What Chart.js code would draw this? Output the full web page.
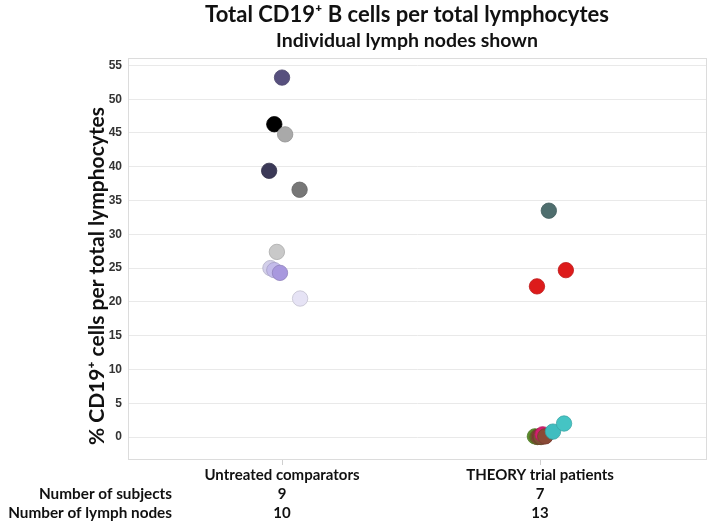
<!DOCTYPE html>
<html><head><meta charset="utf-8">
<script src="https://cdn.jsdelivr.net/npm/chart.js@4/dist/chart.umd.min.js"></script>
<style>html,body{margin:0;padding:0;background:#fff}</style>
</head><body>
<canvas id="c" width="709" height="522"></canvas>
<script>
const categories = ['Untreated comparators', 'THEORY trial patients'];
const subjectCounts = [9, 7];
const nodeCounts = [10, 13];
const rowHeaders = ['Number of subjects', 'Number of lymph nodes'];
const yTicks = [0, 5, 10, 15, 20, 25, 30, 35, 40, 45, 50, 55];
const yTitle = '% CD19\u207A cells per total lymphocytes';
const mainTitle = 'Total CD19\u207A B cells per total lymphocytes';
const subTitle = 'Individual lymph nodes shown';

// Untreated comparators (category 1)
const untreatedValues = [53.2, 46.3, 44.8, 39.4, 36.6, 27.4, 25.0, 24.7, 24.3, 20.5];
const untreatedJitter = [0.0, -0.03, 0.012, -0.05, 0.068, -0.02, -0.045, -0.03, -0.008, 0.07];
const untreatedColors = ['#57507e', '#000000', '#a9a9a9', '#3b3957', '#777777', '#c9c9c9', '#d3cfea', '#c3bbea', '#a898de', '#e6e3f5'];

// THEORY trial patients (category 2)
const theoryValues = [33.5, 24.7, 22.3, 0.1, 0.0, 0.05, 0.1, 0.0, 0.15, 0.4, 0.1, 0.8, 2.0];
const theoryJitter = [0.034, 0.1, -0.012, -0.02, -0.01, -0.005, 0.0, 0.004, 0.02, 0.01, 0.02, 0.05, 0.093];
const theoryColors = ['#4f6e6e', '#dd1b1b', '#dd1b1b', '#5b8c2c', '#6c6a2a', '#7a5531', '#8a3a3c', '#7b5232', '#c2285a', '#d41e6e', '#8a4a36', '#3fbdc0', '#45c4c4'];

function toPoints(values, jitter, cat) {
  return values.map((v, i) => ({ x: cat + jitter[i], y: v }));
}
function darker(hex) {
  const n = parseInt(hex.slice(1), 16);
  const r = Math.round(((n >> 16) & 255) * 0.85), g = Math.round(((n >> 8) & 255) * 0.85), b = Math.round((n & 255) * 0.85);
  return `rgb(${r},${g},${b})`;
}

const textFont = 'Lato, "Open Sans", "DejaVu Sans", sans-serif';

const overlay = {
  id: 'overlay',
  beforeDraw(chart) {
    const { ctx } = chart;
    ctx.save();
    ctx.fillStyle = '#fff';
    ctx.fillRect(0, 0, chart.width, chart.height);
    ctx.restore();
  },
  afterDraw(chart) {
    const { ctx, chartArea: a } = chart;
    ctx.save();
    ctx.strokeStyle = '#dcdcdc';
    ctx.lineWidth = 1;
    ctx.strokeRect(a.left + 0.5, a.top + 0.5, a.right - a.left - 1, a.bottom - a.top - 1);
    ctx.fillStyle = '#111';
    ctx.textAlign = 'center';
    ctx.textBaseline = 'middle';
    ctx.font = 'bold 22px ' + textFont;
    ctx.fillText(mainTitle, 407, 15);
    ctx.font = 'bold 19.5px ' + textFont;
    ctx.fillText(subTitle, 407, 41);
    ctx.textAlign = 'right';
    ctx.font = 'bold 15.3px ' + textFont;
    ctx.fillText(rowHeaders[0], 172, a.bottom + 34);
    ctx.fillText(rowHeaders[1], 172, a.bottom + 53);
    ctx.translate(97, 276);
    ctx.rotate(-Math.PI / 2);
    ctx.textAlign = 'center';
    ctx.font = 'bold 21px ' + textFont;
    ctx.fillText(yTitle, 0, 0);
    ctx.restore();
  }
};

new Chart(document.getElementById('c'), {
  type: 'scatter',
  data: {
    datasets: [
      {
        label: categories[0],
        data: toPoints(untreatedValues, untreatedJitter, 1),
        backgroundColor: untreatedColors,
        borderColor: untreatedColors.map(darker),
        borderWidth: 0.8,
        pointRadius: 7.7,
        pointHoverRadius: 7.7
      },
      {
        label: categories[1],
        data: toPoints(theoryValues, theoryJitter, 2),
        backgroundColor: theoryColors,
        borderColor: theoryColors.map(darker),
        borderWidth: 0.8,
        pointRadius: 7.7,
        pointHoverRadius: 7.7
      }
    ]
  },
  options: {
    responsive: false,
    animation: false,
    events: [],
    layout: { autoPadding: false, padding: { top: 58, left: 80, right: 2, bottom: 0 } },
    plugins: { legend: { display: false }, tooltip: { enabled: false }, title: { display: false } },
    scales: {
      x: {
        type: 'linear',
        min: 0.403,
        max: 2.647,
        afterBuildTicks: s => { s.ticks = categories.map((c, i) => ({ value: i + 1 })); },
        afterFit: s => { s.height = 62; },
        grid: { drawOnChartArea: false, tickLength: 5, color: '#cfcfcf' },
        border: { display: false },
        ticks: {
          padding: 1,
          color: '#111',
          font: { family: textFont, size: 15, weight: 'bold', lineHeight: 1.27 },
          callback: (v) => {
            const i = Math.round(v) - 1;
            return [categories[i], String(subjectCounts[i]), String(nodeCounts[i])];
          }
        }
      },
      y: {
        min: -3.4,
        max: 56.1,
        afterBuildTicks: s => { s.ticks = yTicks.map(v => ({ value: v })); },
        afterFit: s => { s.width = 48; },
        grid: { color: '#e9e9e9', drawTicks: false },
        border: { display: false },
        ticks: {
          padding: 6,
          color: '#333',
          font: { family: '"Liberation Sans", Arial, sans-serif', size: 12, weight: 'bold' }
        }
      }
    }
  },
  plugins: [overlay]
});
</script>
</body></html>
